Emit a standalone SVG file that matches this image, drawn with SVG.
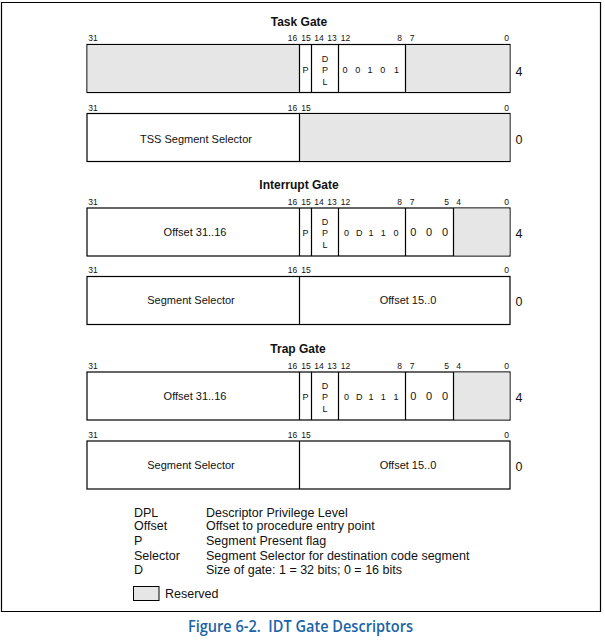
<svg xmlns="http://www.w3.org/2000/svg" width="605" height="641" viewBox="0 0 605 641">
<style>
  .box { fill: #ffffff; stroke: #000; stroke-width: 1.2; }
  .res { fill: #e6e6e6; stroke: none; }
  .ln { stroke: #000; stroke-width: 1.2; }
  .t { font-family: "Liberation Sans", Arial, sans-serif; fill: #111; }
  .title { font-size: 12px; font-weight: bold; text-anchor: middle; }
  .bit { font-size: 8.5px; text-anchor: middle; }
  .sm { font-size: 9px; text-anchor: middle; }
  .md { font-size: 11px; text-anchor: middle; }
  .row { font-size: 12.5px; text-anchor: middle; }
  .lg { font-size: 12.5px; }
  .cap { font-family: "Open Sans", "Noto Sans", sans-serif; font-size: 15.5px; font-weight: 600; fill: #1b63a6; text-anchor: middle; }
</style>
<rect x="0" y="0" width="605" height="641" fill="#fff"/>
<path d="M1.5 2.5 H600.5 V611.5 H1.5 Z" fill="none" stroke="#000" stroke-width="1.2"/>

<!-- Task Gate -->
<g id="task-gate">
  <text class="t title" x="299" y="26">Task Gate</text>
  <g class="t bit">
    <text x="93" y="41">31</text><text x="292.5" y="41">16</text><text x="306" y="41">15</text><text x="319" y="41">14</text><text x="332" y="41">13</text><text x="345.5" y="41">12</text><text x="399.5" y="41">8</text><text x="412" y="41">7</text><text x="506.5" y="41">0</text>
  </g>
  <rect class="box" x="87" y="44.5" width="423" height="48"/>
  <rect class="res" x="87.6" y="45.1" width="211.9" height="46.8"/>
  <rect class="res" x="405.5" y="45.1" width="104" height="46.8"/>
  <path class="ln" d="M299.5 44.5V92.5M311.5 44.5V92.5M338.5 44.5V92.5M405.5 44.5V92.5"/>
  <g class="t sm">
    <text x="305.5" y="73">P</text>
    <text x="325" y="62">D</text><text x="325" y="73">P</text><text x="325" y="84.5">L</text>
    <text x="345" y="73">0</text><text x="357.7" y="73">0</text><text x="370" y="73">1</text><text x="382.7" y="73">0</text><text x="396.5" y="73">1</text>
  </g>
  <text class="t row" x="519" y="75.5">4</text>

  <g class="t bit">
    <text x="93" y="110.5">31</text><text x="292.5" y="110.5">16</text><text x="306" y="110.5">15</text><text x="506.5" y="110.5">0</text>
  </g>
  <rect class="box" x="87" y="113.5" width="423" height="48"/>
  <rect class="res" x="299.5" y="114.1" width="210" height="46.8"/>
  <path class="ln" d="M299.5 113.5V161.5"/>
  <text class="t md" x="196" y="143">TSS Segment Selector</text>
  <text class="t row" x="519" y="143.5">0</text>
</g>

<!-- Interrupt Gate -->
<g id="interrupt-gate">
  <text class="t title" x="299" y="189">Interrupt Gate</text>
  <g class="t bit">
    <text x="93" y="204.5">31</text><text x="292.5" y="204.5">16</text><text x="306" y="204.5">15</text><text x="319" y="204.5">14</text><text x="332" y="204.5">13</text><text x="345.5" y="204.5">12</text><text x="399.5" y="204.5">8</text><text x="412" y="204.5">7</text><text x="446.5" y="204.5">5</text><text x="458.5" y="204.5">4</text><text x="506.5" y="204.5">0</text>
  </g>
  <rect class="box" x="87" y="208" width="423" height="48"/>
  <rect class="res" x="453.5" y="208.6" width="56" height="46.8"/>
  <path class="ln" d="M299.5 208V256M311.5 208V256M338.5 208V256M405.5 208V256M453.5 208V256"/>
  <text class="t md" x="195" y="236">Offset 31..16</text>
  <g class="t sm">
    <text x="305.5" y="236">P</text>
    <text x="325" y="225">D</text><text x="325" y="236">P</text><text x="325" y="247.5">L</text>
    <text x="346.5" y="236">0</text><text x="359.3" y="236">D</text><text x="371" y="236">1</text><text x="383.3" y="236">1</text><text x="396" y="236">0</text>
  </g>
  <g class="t md">
    <text x="413.3" y="236">0</text><text x="429" y="236">0</text><text x="445" y="236">0</text>
  </g>
  <text class="t row" x="519" y="238">4</text>

  <g class="t bit">
    <text x="93" y="273">31</text><text x="292.5" y="273">16</text><text x="306" y="273">15</text><text x="506.5" y="273">0</text>
  </g>
  <rect class="box" x="87" y="276.5" width="423" height="48"/>
  <path class="ln" d="M299.5 276.5V324.5"/>
  <text class="t md" x="191" y="304">Segment Selector</text>
  <text class="t md" x="408" y="304">Offset 15..0</text>
  <text class="t row" x="519" y="306">0</text>
</g>

<!-- Trap Gate -->
<g id="trap-gate">
  <text class="t title" x="298" y="353">Trap Gate</text>
  <g class="t bit">
    <text x="93" y="368.5">31</text><text x="292.5" y="368.5">16</text><text x="306" y="368.5">15</text><text x="319" y="368.5">14</text><text x="332" y="368.5">13</text><text x="345.5" y="368.5">12</text><text x="399.5" y="368.5">8</text><text x="412" y="368.5">7</text><text x="446.5" y="368.5">5</text><text x="458.5" y="368.5">4</text><text x="506.5" y="368.5">0</text>
  </g>
  <rect class="box" x="87" y="372" width="423" height="48"/>
  <rect class="res" x="453.5" y="372.6" width="56" height="46.8"/>
  <path class="ln" d="M299.5 372V420M311.5 372V420M338.5 372V420M405.5 372V420M453.5 372V420"/>
  <text class="t md" x="195" y="400">Offset 31..16</text>
  <g class="t sm">
    <text x="305.5" y="400">P</text>
    <text x="325" y="389">D</text><text x="325" y="400">P</text><text x="325" y="411.5">L</text>
    <text x="346.5" y="400">0</text><text x="359.3" y="400">D</text><text x="371" y="400">1</text><text x="383.3" y="400">1</text><text x="396" y="400">1</text>
  </g>
  <g class="t md">
    <text x="413.3" y="400">0</text><text x="429" y="400">0</text><text x="445" y="400">0</text>
  </g>
  <text class="t row" x="519" y="402">4</text>

  <g class="t bit">
    <text x="93" y="437.5">31</text><text x="292.5" y="437.5">16</text><text x="306" y="437.5">15</text><text x="506.5" y="437.5">0</text>
  </g>
  <rect class="box" x="87" y="441" width="423" height="48"/>
  <path class="ln" d="M299.5 441V489"/>
  <text class="t md" x="191" y="469">Segment Selector</text>
  <text class="t md" x="408" y="469">Offset 15..0</text>
  <text class="t row" x="519" y="470.5">0</text>
</g>

<!-- Legend -->
<g id="legend" class="t lg">
  <text x="134" y="516.5">DPL</text><text x="206" y="516.5">Descriptor Privilege Level</text>
  <text x="134" y="530">Offset</text><text x="206" y="530">Offset to procedure entry point</text>
  <text x="134" y="545">P</text><text x="206" y="545">Segment Present flag</text>
  <text x="134" y="559.5">Selector</text><text x="206" y="559.5">Segment Selector for destination code segment</text>
  <text x="134" y="574">D</text><text x="206" y="574">Size of gate: 1 = 32 bits; 0 = 16 bits</text>
  <rect x="133.5" y="586.5" width="25.5" height="14" fill="#e6e6e6" stroke="#000" stroke-width="1"/>
  <text x="165" y="597.5">Reserved</text>
</g>

<text class="cap" x="300.5" y="631.5" textLength="225" lengthAdjust="spacingAndGlyphs">Figure 6-2.&#160; IDT Gate Descriptors</text>
</svg>
